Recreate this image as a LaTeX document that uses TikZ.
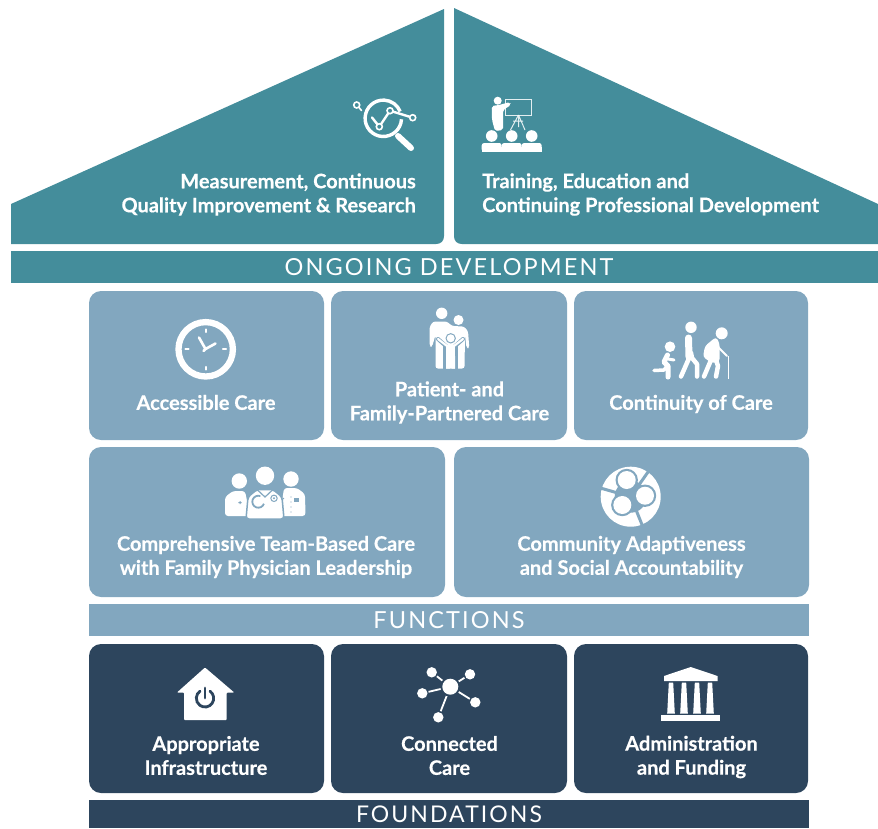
\documentclass[tikz,border=0pt]{standalone}
\usepackage{fontspec}
\setmainfont[BoldFeatures={FakeBold=0.4}]{Lato}
\newfontfamily\bandfont[LetterSpace=9]{Lato}
\definecolor{teal}{HTML}{448D9B}
\definecolor{steel}{HTML}{82A7BF}
\definecolor{navy}{HTML}{2D455D}
\tikzset{
  card/.style={rounded corners=12pt,inner sep=0pt,outer sep=0pt,anchor=north west,minimum height=149pt},
  band/.style={inner sep=0pt,outer sep=0pt,anchor=north west,minimum height=32pt,text=white,font=\bandfont\fontsize{23.5}{24}\selectfont},
  lab/.style={text=white,font=\bfseries\fontsize{20}{24}\selectfont,inner sep=0pt,align=center},
  wl/.style={draw=white,line cap=round,line join=round},
}
\begin{document}
\begin{tikzpicture}[x=1pt,y=-1pt]
\useasboundingbox (0,0) rectangle (878,828);
% roof
\fill[teal] (444,9) -- (11,204) -- (11,244) -- (436,244) .. controls (441,244) and (444,241) .. (444,236) -- cycle;
\fill[teal] (454,8) -- (878,204) -- (878,244) -- (462,244) .. controls (457,244) and (454,241) .. (454,236) -- cycle;
% bands
\node[band,fill=teal,minimum width=867pt] (ongoing) at (11,251) {\hspace*{9pt}\raisebox{-2.5pt}{ONGOING DEVELOPMENT}};
\node[band,fill=steel,minimum width=720pt] (functions) at (89,604) {\raisebox{-2.5pt}{FUNCTIONS}};
\node[band,fill=navy,minimum width=720pt,minimum height=28pt] (foundations) at (89,800) {\raisebox{-3pt}{\fontsize{23}{24}\selectfont FOUNDATIONS}};
% cards
\node[card,fill=steel,minimum width=235pt] (c1) at (89,291) {};
\node[card,fill=steel,minimum width=236pt] (c2) at (331,291) {};
\node[card,fill=steel,minimum width=234pt] (c3) at (574,291) {};
\node[card,fill=steel,minimum width=356pt,minimum height=150pt] (c4) at (89,447) {};
\node[card,fill=steel,minimum width=355pt,minimum height=150pt] (c5) at (454,447) {};
\node[card,fill=navy,minimum width=235pt] (c6) at (89,644) {};
\node[card,fill=navy,minimum width=236pt] (c7) at (331,644) {};
\node[card,fill=navy,minimum width=234pt] (c8) at (574,644) {};
% labels
\node[lab,align=right,anchor=east] (t1) at (416,194.5) {Measurement, Continuous\\Quality Improvement \& Research};
\node[lab,align=left,anchor=west] (t2) at (482,194.5) {Training, Education and\\Continuing Professional Development};
\node[lab] (t3) at (206,402.5) {Accessible Care};
\node[lab] (t4) at (449.5,402.5) {Patient- and\\Family-Partnered Care};
\node[lab] (t5) at (691,404) {Continuity of Care};
\node[lab] (t6) at (266,557) {Comprehensive Team-Based Care\\with Family Physician Leadership};
\node[lab] (t7) at (631.5,557) {Community Adaptiveness\\and Social Accountability};
\node[lab] (t8) at (206,755.5) {Appropriate\\Infrastructure};
\node[lab] (t9) at (449.5,755.5) {Connected\\Care};
\node[lab] (t10) at (691.5,757) {Administration\\and Funding};
% magnifier icon
\draw[white,line width=3.4pt] ([shift={(383.3,118.3)}]3:18.2) arc[start angle=3,end angle=338,radius=18.2];
\draw[wl,line width=6pt] (398,136) -- (411,148);
\draw[wl,line width=2.4pt] (372,117.5) -- (379.3,126.7) -- (390,110.7) -- (412.7,117.7);
\foreach \p in {(379.3,126.7),(390,110.7),(412.7,117.7),(356.7,105)}
  \draw[white,fill=teal,line width=1.6pt] \p circle[radius=3];
\draw[wl,line width=1.6pt] (359,107.5) -- (361.5,110.5);
% presentation icon
\fill[white] (497.7,100.7) circle[radius=4];
\fill[white,rounded corners=2pt] (491.7,106) -- (499,105) -- (510,102) -- (511,105) -- (503,110) -- (503,130) -- (495,131) -- (492,120) -- cycle;
\draw[white,line width=1pt,opacity=.85] (505.7,99) rectangle (531.7,115);
\draw[white,line width=1pt,opacity=.85] (518.5,115) -- (510.5,130) (518.5,115) -- (525,130) (518.5,115) -- (518.5,127) (513,121) -- (523,121);
\foreach \x in {491.7,511.7,531.7}{
  \fill[white] (\x,136) circle[radius=5.8];
  \fill[white,rounded corners=2.5pt] (\x-10,151.7) -- (\x-10,143) -- (\x+10,143) -- (\x+10,151.7) -- cycle;
  \fill[white] (\x-10,147) rectangle (\x+10,151.7);
}
% clock icon
\draw[white,line width=6.3pt] (205.7,349.3) circle[radius=27.2];
\draw[wl,line width=2.2pt] (205.7,329.5) -- (205.7,332) (205.7,367) -- (205.7,369.5) (185.5,349.3) -- (188.5,349.3) (223,349.3) -- (226,349.3);
\draw[wl,line width=2.6pt] (199,337.5) -- (205.5,349) -- (215.5,343.5) (205.5,349) -- (203.5,351);
% family icon
\fill[white] (441.7,313.3) circle[radius=5.7];
\fill[white] (458.5,320) circle[radius=5];
\fill[white,rounded corners=2.5pt] (429.5,346) -- (429.5,327) -- (433,321.5) -- (447,321.5) -- (452,326) -- (464,326.5) -- (468,331) -- (469.3,348) -- (466.5,348) -- (465,335) -- (464.5,368.5) -- (435.5,368.5) -- (435.5,335) -- (432,347) -- cycle;
\draw[steel,line width=4pt,line join=round,line cap=round] (438,339) -- (447,347) (463,339) -- (454,347);
\fill[steel] (443,345) rectangle (445.6,369);
\fill[steel] (455.4,345) rectangle (458,369);
\fill[steel] (450.7,338.3) circle[radius=5.2];
\fill[white] (450.7,338.3) circle[radius=4];
\draw[wl,line width=2.2pt] (438,339) -- (447,346) -- (454,346) -- (463,339);
\fill[white] (446,345) rectangle (455,357);
\fill[white] (446,356) rectangle (449.9,368.5) (451.5,356) rectangle (455,368.5);
% walkers icon
\fill[white] (670,346.7) circle[radius=5.3];
\draw[wl,line width=5pt] (667.5,355) -- (664,362) -- (668,366) (668,366) -- (668,377) ;
\draw[wl,line width=3pt] (668,359) -- (674,360);
\draw[wl,line width=3.5pt] (654,370.5) -- (664,370) -- (667,366);
\fill[white] (691,327.3) circle[radius=5.7];
\draw[wl,line width=7pt] (688.5,338) -- (689,357);
\draw[wl,line width=4.5pt] (691,353) -- (692,358) -- (697,364) -- (697,376.5) (690,356) -- (681,376.5);
\fill[white] (721.7,333.3) circle[radius=6];
\fill[white,rounded corners=3pt] (716,337) -- (719.5,343) -- (719.5,362) -- (712,363) -- (703,357) -- (705,346) -- cycle;
\draw[wl,line width=2pt] (717,346) -- (727,356);
\draw[wl,line width=4.5pt] (711,360) -- (704,376.5) (716,360) -- (718,366) -- (716,376.5);
\draw[white,line width=1.5pt] (728.5,356) -- (728.5,379);
% team icon
\fill[white] (239.3,481) circle[radius=7.7];
\fill[white] (291,479) circle[radius=7.7];
\fill[white,rounded corners=3pt] (225,516) -- (225,497) -- (233,491) -- (245,491) -- (250,516) -- cycle;
\fill[white,rounded corners=3pt] (305.5,516) -- (305,494) -- (297,488) -- (284,488) -- (280,516) -- cycle;
\fill[white] (265,475.7) circle[radius=9.2];
\draw[steel,line width=1.5pt,fill=white,rounded corners=3pt] (246,519) -- (248,497) -- (257,489.5) -- (273,489.5) -- (282,497) -- (284,519) -- cycle;
\draw[steel,line width=1.2pt] (257,489.5) -- (265,497) -- (273,489.5);
\draw[steel,line width=1.8pt] ([shift={(258.3,501.7)}]20:6) arc[start angle=20,end angle=290,radius=6];
\draw[steel,line width=1pt] (274,498.3) circle[radius=3.2];
\fill[steel] (274,498.3) circle[radius=1.1];
\fill[steel] (294,497.5) rectangle (298.5,502);
\foreach \y in {497,502,507,512} \fill[steel] (291,\y) circle[radius=.7];
\fill[steel] (239.5,501) rectangle (240.5,504) (238.3,502) rectangle (241.7,503);
\draw[steel,line width=1pt] (284,498) -- (282,500);
% community icon
\fill[white] (630.7,496.7) circle[radius=30];
\fill[steel] (630.7,496.7) circle[radius=16];
\foreach \a in {196,305,68} \draw[steel,line width=3pt] (630.7,496.7) -- ++(\a:32);
\foreach \c in {(626.7,480),(645,495.7),(622.3,505)}{
  \fill[steel] \c circle[radius=11.2];
  \fill[white] \c circle[radius=9];
}
% home icon
\fill[white,rounded corners=.8pt] (205,667.5) -- (234.2,692.5) -- (226.7,692.5) -- (226.7,720) -- (184,720) -- (184,692.5) -- (177,692.5) -- cycle;
\draw[navy,line width=2.8pt,line cap=round] ([shift={(205,698.3)}]305:8.7) arc[start angle=305,end angle=595,radius=8.7];
\draw[navy,line width=2.8pt,line cap=round] (205,688) -- (205,698);
% network icon
\draw[white,line width=1.8pt] (450.3,686.7) -- (431.7,672.3) (450.3,686.7) -- (470,674.3) (450.3,686.7) -- (422.3,693.3) (450.3,686.7) -- (475.3,702.3) (450.3,686.7) -- (438.3,717.3);
\fill[navy] (450.3,686.7) circle[radius=10];
\fill[white] (450.3,686.7) circle[radius=8];
\foreach \p in {(431.7,672.3),(470,674.3),(422.3,693.3),(475.3,702.3),(438.3,717.3)}{
  \fill[navy] \p circle[radius=6.5];
  \fill[white] \p circle[radius=5.2];
}
% bank icon
\fill[white] (690.7,667) -- (717.5,676) -- (717.5,681) -- (664,681) -- (664,676) -- cycle;
\foreach \x in {671,684,697,710}
  \fill[white] (\x-2.2,682.7) -- (\x+2.2,682.7) -- (\x+3.8,713.5) -- (\x-3.8,713.5) -- cycle;
\fill[white] (661,715) rectangle (720,721);
\end{tikzpicture}
\end{document}
